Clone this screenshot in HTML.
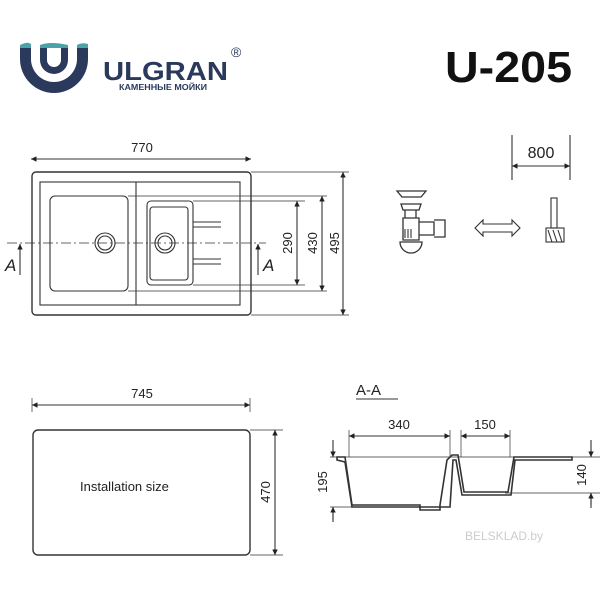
<!DOCTYPE html><html><head><style>body{margin:0;background:#fff}svg{display:block}text{font-family:"Liberation Sans",sans-serif;fill:#222}</style></head><body>
<svg width="600" height="600" viewBox="0 0 600 600" xmlns="http://www.w3.org/2000/svg">
<defs><marker id="a" viewBox="0 0 10 10" refX="10" refY="5" markerWidth="7" markerHeight="5" orient="auto-start-reverse"><path d="M0,0L10,5L0,10z" fill="#222"/></marker></defs>
<path d="M20,45V59A34,34 0 0 0 88,59V45H77V59A23,23 0 0 1 31,59V45Z" fill="#2b3a5c"/>
<path d="M40,45V60A14,14 0 0 0 68,60V45H61V60A7,7 0 0 1 47,60V45Z" fill="#2b3a5c"/>
<path d="M20,45q8,-4 11,-1v4h-11zM77,45q5,-3 11,-1v4h-11zM40,45q10,-4 28,0v3h-28z" fill="#4aa3a8"/>
<text x="103" y="80" font-size="26" font-weight="bold" textLength="125" lengthAdjust="spacingAndGlyphs" style="fill:#2b3a5c">ULGRAN</text>
<text x="231" y="57" font-size="14" style="fill:#2b3a5c">®</text>
<text x="119" y="90" font-size="8" font-weight="bold" textLength="88" lengthAdjust="spacingAndGlyphs" style="fill:#2b3a5c">КАМЕННЫЕ МОЙКИ</text>
<text x="445" y="82" font-size="44" font-weight="bold" textLength="127" lengthAdjust="spacingAndGlyphs" style="fill:#111">U-205</text>
<g fill="none" stroke="#333" stroke-width="1.1">
<line x1="31" y1="159" x2="251" y2="159" marker-start="url(#a)" marker-end="url(#a)"/>
<rect x="32" y="172" width="219" height="143" rx="4" stroke-width="1.4"/>
<rect x="40" y="182" width="200" height="123"/>
<line x1="136" y1="182" x2="136" y2="305"/>
<rect x="50" y="196" width="78" height="95" rx="5"/>
<circle cx="105" cy="243" r="10"/><circle cx="105" cy="243" r="7"/>
<rect x="147" y="201" width="46" height="84" rx="4"/>
<rect x="150" y="207" width="38" height="73" rx="3"/>
<circle cx="165" cy="243" r="10"/><circle cx="165" cy="243" r="7"/>
<path d="M193,222H221M193,227H221M193,259H221M193,264H221"/>
<line x1="7" y1="243" x2="266" y2="243" stroke-dasharray="10,3,2,3" stroke-width="0.7"/>
<line x1="20" y1="275" x2="20" y2="244" marker-end="url(#a)"/>
<line x1="258" y1="275" x2="258" y2="244" marker-end="url(#a)"/>
<path d="M193,201H305M193,285H305M128,196H327M128,291H327M251,172H349M251,315H349" stroke-width="0.7"/>
<line x1="297" y1="201" x2="297" y2="285" marker-start="url(#a)" marker-end="url(#a)"/>
<line x1="322" y1="196" x2="322" y2="291" marker-start="url(#a)" marker-end="url(#a)"/>
<line x1="343" y1="172" x2="343" y2="315" marker-start="url(#a)" marker-end="url(#a)"/>
<path d="M32,398V412M250,398V412M250,430H283M250,555H283" stroke-width="0.7"/>
<line x1="32" y1="405" x2="250" y2="405" marker-start="url(#a)" marker-end="url(#a)"/>
<rect x="33" y="430" width="217" height="125" rx="5" stroke-width="1.4"/>
<line x1="275" y1="430" x2="275" y2="555" marker-start="url(#a)" marker-end="url(#a)"/>
<line x1="356" y1="399" x2="398" y2="399"/>
<path d="M330,457H600M330,507H352M505,493H600M349,430V457M450,430V457M461,430V457M510,430V457" stroke-width="0.7"/>
<line x1="349" y1="436" x2="450" y2="436" marker-start="url(#a)" marker-end="url(#a)"/>
<line x1="461" y1="436" x2="510" y2="436" marker-start="url(#a)" marker-end="url(#a)"/>
<path d="M333,440V457M333,507V522M591,440V457M591,493V508"/>
<path d="M333,450V457" marker-end="url(#a)"/><path d="M333,520V507" marker-end="url(#a)"/>
<path d="M591,450V457" marker-end="url(#a)"/><path d="M591,505V493" marker-end="url(#a)"/>
<path d="M337,457H345L352,505H420V510H440V505L447,460L452,455H458L464,492H508L514,457H572V460H515L511,495H462L456,460H453L450,507H352L345,462L337,460Z" stroke-width="1.6"/>
<path d="M512,135V180M570,135V180"/>
<line x1="512" y1="166" x2="570" y2="166" marker-start="url(#a)" marker-end="url(#a)"/>
<path d="M397,191H426L421,197H402ZM401,204H421L419,210H403ZM405,210V218H416V210M403,218H419V240H403ZM419,222H434V235H419M434,220H445V237H434M400,242H422A11,11 0 0 1 400,242Z" stroke-width="1.3"/>
<path d="M405,229V238M408,229V238M411,229V238"/>
<path d="M475,228L483,220V224H512V220L520,228L512,236V232H483V236Z"/>
<rect x="551" y="198" width="6" height="30"/>
<rect x="546" y="228" width="18" height="14"/>
<path d="M548,230L552,242M553,230L557,242M558,230L562,242"/>
</g>
<text x="142" y="152" font-size="13" text-anchor="middle">770</text>
<text x="5" y="271" font-size="17" font-style="italic">A</text>
<text x="263" y="271" font-size="17" font-style="italic">A</text>
<text transform="translate(292,243) rotate(-90)" font-size="13" text-anchor="middle">290</text>
<text transform="translate(317,243) rotate(-90)" font-size="13" text-anchor="middle">430</text>
<text transform="translate(339,243) rotate(-90)" font-size="13" text-anchor="middle">495</text>
<text x="142" y="398" font-size="13" text-anchor="middle">745</text>
<text x="80" y="491" font-size="13">Installation size</text>
<text transform="translate(270,492) rotate(-90)" font-size="13" text-anchor="middle">470</text>
<text x="356" y="395" font-size="15">A-A</text>
<text x="399" y="429" font-size="13" text-anchor="middle">340</text>
<text x="485" y="429" font-size="13" text-anchor="middle">150</text>
<text transform="translate(327,482) rotate(-90)" font-size="13" text-anchor="middle">195</text>
<text transform="translate(586,475) rotate(-90)" font-size="13" text-anchor="middle">140</text>
<text x="541" y="158" font-size="16" text-anchor="middle">800</text>
<text x="465" y="540" font-size="12" style="fill:#ccc">BELSKLAD.by</text>
</svg></body></html>
